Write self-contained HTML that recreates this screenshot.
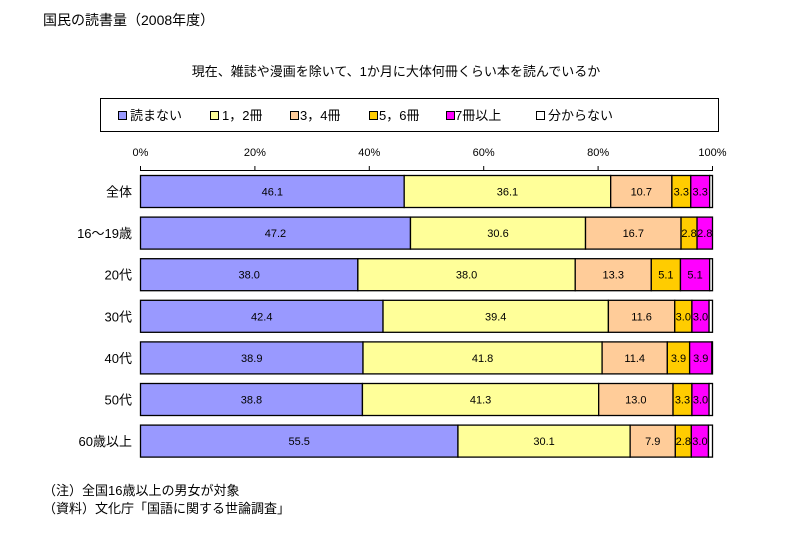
<!DOCTYPE html>
<html><head><meta charset="utf-8"><style>
body{margin:0;background:#fff;}
svg text{font-family:"Liberation Sans","Noto Sans CJK JP",sans-serif;}
</style></head><body>
<svg id="s" width="801" height="536" xmlns="http://www.w3.org/2000/svg">
<rect width="801" height="536" fill="#fff"/>
<text x="43" y="25" font-size="14">国民の読書量（2008年度）</text>
<text x="396" y="76" font-size="13" text-anchor="middle">現在、雑誌や漫画を除いて、1か月に大体何冊くらい本を読んでいるか</text>
<rect x="100.5" y="98.5" width="618" height="33" fill="#fff" stroke="#000"/>
<g font-size="13">
<rect x="118.5" y="111.5" width="8" height="8" fill="#9999FF" stroke="#000"/><text x="130" y="120">読まない</text>
<rect x="210.5" y="111.5" width="8" height="8" fill="#FFFF99" stroke="#000"/><text x="222" y="120">1，2冊</text>
<rect x="290.5" y="111.5" width="8" height="8" fill="#FFCC99" stroke="#000"/><text x="300" y="120">3，4冊</text>
<rect x="369.5" y="111.5" width="8" height="8" fill="#FFCC00" stroke="#000"/><text x="379" y="120">5，6冊</text>
<rect x="446.5" y="111.5" width="8" height="8" fill="#FF00FF" stroke="#000"/><text x="455" y="120">7冊以上</text>
<rect x="536.5" y="111.5" width="8" height="8" fill="#fff" stroke="#000"/><text x="548" y="120">分からない</text>
</g>
<text x="43" y="495" font-size="13">（注）全国16歳以上の男女が対象</text>
<text x="43" y="513" font-size="13">（資料）文化庁「国語に関する世論調査」</text>
<g id="c"></g>
</svg>
<script>
var g=document.getElementById('c'),ns='http://www.w3.org/2000/svg';
function el(t,a,txt){var e=document.createElementNS(ns,t);for(var k in a)e.setAttribute(k,a[k]);if(txt!=null)e.textContent=txt;g.appendChild(e);return e;}
var x0=140.5,sc=5.72;
el('line',{x1:x0,y1:170.5,x2:x0+572,y2:170.5,stroke:'#000'});
for(var i=0;i<=5;i++){var x=x0+i*20*sc;el('line',{x1:x,y1:166,x2:x,y2:171,stroke:'#000'});el('text',{x:x,y:156,'font-size':11,'text-anchor':'middle'},(i*20)+'%');}
var rows=[['全体',[46.1,36.1,10.7,3.3,3.3]],['16～19歳',[47.2,30.6,16.7,2.8,2.8]],['20代',[38.0,38.0,13.3,5.1,5.1]],['30代',[42.4,39.4,11.6,3.0,3.0]],['40代',[38.9,41.8,11.4,3.9,3.9]],['50代',[38.8,41.3,13.0,3.3,3.0]],['60歳以上',[55.5,30.1,7.9,2.8,3.0]]];
var cols=['#9999FF','#FFFF99','#FFCC99','#FFCC00','#FF00FF','#fff'];
rows.forEach(function(r,j){var y=175.5+j*41.6;var x=x0;var v=r[1].slice();var s=v.reduce(function(a,b){return a+b},0);v.push(Math.max(0,100-s));
el('text',{x:132,y:y+21,'font-size':13,'text-anchor':'end'},r[0]);
v.forEach(function(d,k){var w=d*sc;if(x+w>x0+572)w=x0+572-x;if(w<=0)return;el('rect',{x:x,y:y,width:w,height:32,fill:cols[k],stroke:'#000','stroke-width':1.3});
if(k<5)el('text',{x:x+w/2,y:y+20,'font-size':11,'text-anchor':'middle'},d.toFixed(1));x+=w;});});
</script>
</body></html>
